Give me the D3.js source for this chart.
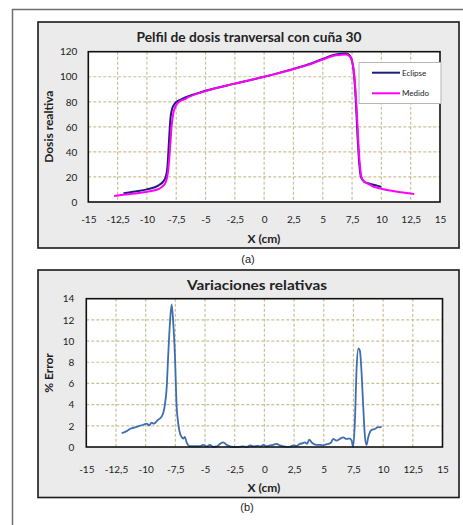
<!DOCTYPE html>
<html>
<head>
<meta charset="utf-8">
<script src="https://cdn.jsdelivr.net/npm/d3@7"></script>
<style>
  html, body { margin: 0; padding: 0; background: #fff; }
  svg { display: block; }
  text { font-family: Lato, "Open Sans", sans-serif; fill: #222; }
</style>
</head>
<body>
<svg id="fig" width="463" height="525"></svg>
<script>
// Transverse dose profile, wedge 30 — [x (cm), relative dose]
const eclipsePoints = [
  [-12.0, 6.9], [-11.0, 8.4], [-10.0, 10.1], [-9.0, 13.3], [-8.6, 16.5], [-8.4, 20],
  [-8.25, 28], [-8.12, 48], [-8.0, 66], [-7.85, 74.5], [-7.6, 78.8], [-7.3, 81],
  [-7.0, 82.3], [-6.5, 84.2], [-5.0, 88.8], [-2.5, 94.5], [0, 100], [2.5, 106.3],
  [3.5, 109], [4.0, 110.6], [5.0, 114.2], [6.0, 117.5], [6.5, 118.3], [7.0, 118.6],
  [7.26, 117.4], [7.54, 110.7], [7.68, 100], [7.83, 78.8], [7.97, 52], [8.11, 31],
  [8.25, 20.2], [8.52, 16.2], [9.0, 14.7], [9.5, 13.4], [10.0, 12.1]
];
const medidoPoints = [
  [-12.8, 4.8], [-12.0, 5.8], [-11.0, 6.8], [-10.0, 8.2], [-9.0, 10.4], [-8.6, 13],
  [-8.35, 17], [-8.2, 24], [-8.05, 40], [-7.9, 60], [-7.77, 70], [-7.6, 75.5],
  [-7.45, 78.2], [-7.2, 80.5], [-6.8, 82], [-6.5, 83.5], [-5.0, 88.5], [-2.5, 94.5],
  [0, 100], [2.5, 106], [3.5, 108.8], [4.0, 110.2], [5.0, 113.8], [6.0, 117],
  [6.5, 117.5], [7.0, 117.8], [7.3, 116.3], [7.56, 110], [7.72, 98], [7.88, 76],
  [8.02, 50], [8.16, 30], [8.3, 20], [8.55, 16.2], [8.8, 14.9], [9.3, 12.3],
  [10.0, 10.6], [11.0, 8.7], [12.0, 7.3], [12.64, 6.6], [12.8, 6.4]
];

// Relative variation between both profiles — [x (cm), % error]
const errorPoints = [
  [-12.02, 1.32], [-11.6, 1.5], [-11.3, 1.72], [-10.9, 1.85], [-10.5, 2.0], [-10.2, 2.1],
  [-9.92, 2.2], [-9.7, 2.05], [-9.5, 2.3], [-9.3, 2.2], [-9.1, 2.4], [-8.94, 2.58],
  [-8.7, 2.8], [-8.52, 3.2], [-8.38, 4.0], [-8.23, 5.6], [-8.1, 8.7], [-7.95, 11.8],
  [-7.81, 13.47], [-7.68, 11.8], [-7.53, 8.5], [-7.39, 3.8], [-7.26, 2.26], [-7.11, 1.3],
  [-6.97, 0.95], [-6.84, 0.8], [-6.7, 0.95], [-6.55, 0.44], [-6.27, 0.07], [-5.9, 0.07],
  [-5.43, 0.07], [-5.15, 0.2], [-4.87, 0.05], [-4.6, 0.2], [-4.3, 0.0], [-4.0, 0.05],
  [-3.74, 0.3], [-3.47, 0.44], [-3.19, 0.2], [-2.9, 0.05], [-2.63, 0.0], [-2.2, 0.0],
  [-1.8, 0.05], [-1.5, 0.0], [-1.2, 0.16], [-0.9, 0.05], [-0.6, 0.1], [-0.3, 0.05],
  [-0.1, 0.2], [0.18, 0.07], [0.45, 0.15], [0.74, 0.2], [1.03, 0.3], [1.3, 0.15],
  [1.59, 0.07], [2.0, 0.0], [2.2, 0.05], [2.42, 0.16], [2.7, 0.1], [2.99, 0.3],
  [3.2, 0.35], [3.41, 0.44], [3.6, 0.3], [3.77, 0.69], [4.0, 0.4], [4.4, 0.2],
  [4.7, 0.2], [4.96, 0.16], [5.2, 0.25], [5.4, 0.3], [5.6, 0.4], [5.79, 0.76],
  [6.07, 0.6], [6.35, 0.76], [6.63, 0.9], [6.91, 0.76], [7.2, 0.8], [7.35, 0.6],
  [7.47, 0.0], [7.62, 2.35], [7.76, 7.3], [7.92, 9.3], [8.04, 9.1], [8.18, 7.1],
  [8.32, 3.9], [8.46, 1.1], [8.6, 0.2], [8.74, 0.9], [9.02, 1.6], [9.3, 1.7],
  [9.58, 1.88], [9.72, 1.85], [9.86, 1.95]
];

const xTicks = [-15, -12.5, -10, -7.5, -5, -2.5, 0, 2.5, 5, 7.5, 10, 12.5, 15];
const doseTicks = [0, 20, 40, 60, 80, 100, 120];
const errorTicks = [0, 2, 4, 6, 8, 10, 12, 14];
const seriesNames = ["Eclipse", "Medido"];
const seriesColors = ["#1c1f7a", "#ff00ff"];

const fmt = v => String(v).replace(".", ",");
const svg = d3.select("#fig");

// outer page frame
svg.append("rect").attr("x", 12.5).attr("y", 9.5).attr("width", 480).attr("height", 540)
  .attr("fill", "#fff").attr("stroke", "#6e6e6e").attr("stroke-width", 1.5);

function panel(cfg) {
  const g = svg.append("g");
  g.append("rect").attr("x", cfg.box[0]).attr("y", cfg.box[1])
    .attr("width", cfg.box[2]).attr("height", cfg.box[3])
    .attr("fill", "#ebebeb").attr("stroke", "#1a1a1a").attr("stroke-width", 1.6);

  const x = d3.scaleLinear().domain([-15, 15]).range([cfg.plot[0], cfg.plot[1]]);
  const y = d3.scaleLinear().domain(cfg.yDomain).range([cfg.plot[3], cfg.plot[2]]);

  g.append("rect").attr("x", cfg.plot[0]).attr("y", cfg.plot[2])
    .attr("width", cfg.plot[1] - cfg.plot[0]).attr("height", cfg.plot[3] - cfg.plot[2])
    .attr("fill", "#fff");

  // dashed grid
  const grid = g.append("g").attr("stroke", "#cbbf97").attr("stroke-width", 1.2)
    .attr("stroke-dasharray", "3,2");
  grid.selectAll("line.v").data(xTicks.slice(1, -1)).join("line")
    .attr("x1", d => x(d)).attr("x2", d => x(d))
    .attr("y1", cfg.plot[2]).attr("y2", cfg.plot[3]);
  grid.selectAll("line.h").data(cfg.yTicks.slice(1, -1)).join("line")
    .attr("y1", d => y(d)).attr("y2", d => y(d))
    .attr("x1", cfg.plot[0]).attr("x2", cfg.plot[1]);

  // axes (labels only, no tick marks)
  const ax = g.append("g").attr("transform", `translate(0,${cfg.plot[3]})`)
    .call(d3.axisBottom(x).tickValues(xTicks).tickFormat(fmt).tickSize(0).tickPadding(cfg.xPad));
  const ay = g.append("g").attr("transform", `translate(${cfg.plot[0]},0)`)
    .call(d3.axisLeft(y).tickValues(cfg.yTicks).tickSize(0).tickPadding(cfg.yPad));
  [ax, ay].forEach(a => {
    a.select(".domain").remove();
    a.selectAll("text").attr("font-size", 10).attr("fill", "#1a1a1a")
      .style("font-family", "Lato, sans-serif");
  });

  g.append("text").attr("x", cfg.titlePos[0]).attr("y", cfg.titlePos[1])
    .attr("text-anchor", "middle").attr("font-weight", "bold").attr("font-size", 13)
    .attr("textLength", cfg.titleLen).attr("lengthAdjust", "spacingAndGlyphs")
    .text(cfg.title);
  g.append("text").attr("x", 264).attr("y", cfg.xLabelY)
    .attr("text-anchor", "middle").attr("font-weight", "bold").attr("font-size", 12)
    .text("X (cm)");
  g.append("text").attr("transform", `translate(53,${cfg.yLabelY}) rotate(-90)`)
    .attr("text-anchor", "middle").attr("font-weight", "bold").attr("font-size", 12)
    .text(cfg.yLabel);

  return { g, x, y };
}

// (a) dose profiles
const A = panel({
  box: [38, 22, 421, 226], plot: [88.3, 440, 51.7, 202],
  yDomain: [0, 120], yTicks: doseTicks, xPad: 14, yPad: 11,
  title: "Pelfil de dosis tranversal con cuña 30", titlePos: [249, 42], titleLen: 225,
  xLabelY: 242.5, yLabel: "Dosis realtiva", yLabelY: 126.7
});
const lineA = d3.line().x(d => A.x(d[0])).y(d => A.y(d[1])).curve(d3.curveMonotoneX);
[eclipsePoints, medidoPoints].forEach((pts, i) => {
  A.g.append("path").datum(pts).attr("d", lineA).attr("fill", "none")
    .attr("stroke", seriesColors[i]).attr("stroke-width", 2).attr("stroke-linejoin", "round");
});
A.g.append("rect").attr("x", 88.3).attr("y", 51.7).attr("width", 440 - 88.3).attr("height", 202 - 51.7)
  .attr("fill", "none").attr("stroke", "#111").attr("stroke-width", 1.6);

// legend
const leg = A.g.append("g");
leg.append("rect").attr("x", 359).attr("y", 62.5).attr("width", 82).attr("height", 41)
  .attr("fill", "#fff").attr("stroke", "#b5b5b5").attr("stroke-width", 1);
seriesNames.forEach((n, i) => {
  const yy = 72.7 + i * 20.6;
  leg.append("line").attr("x1", 372).attr("x2", 400).attr("y1", yy).attr("y2", yy)
    .attr("stroke", seriesColors[i]).attr("stroke-width", 2);
  leg.append("text").attr("x", 402).attr("y", yy + 3).attr("font-size", 8).attr("fill", "#333").text(n);
});

// (b) relative variations
const B = panel({
  box: [38, 270, 421, 227.5], plot: [86.3, 442.5, 298.7, 447],
  yDomain: [0, 14], yTicks: errorTicks, xPad: 19, yPad: 12,
  title: "Variaciones  relativas", titlePos: [257, 290.3], titleLen: 140,
  xLabelY: 492.3, yLabel: "% Error", yLabelY: 373
});
const lineB = d3.line().x(d => B.x(d[0])).y(d => B.y(d[1])).curve(d3.curveMonotoneX);
B.g.append("path").datum(errorPoints).attr("d", lineB).attr("fill", "none")
  .attr("stroke", "#3e6db3").attr("stroke-width", 1.8).attr("stroke-linejoin", "round");
B.g.append("rect").attr("x", 86.3).attr("y", 298.7).attr("width", 442.5 - 86.3).attr("height", 447 - 298.7)
  .attr("fill", "none").attr("stroke", "#111").attr("stroke-width", 1.6);

// captions
svg.append("text").attr("x", 248).attr("y", 262.5).attr("text-anchor", "middle")
  .attr("font-size", 11).style("font-family", "'Liberation Sans', Arial, sans-serif").text("(a)");
svg.append("text").attr("x", 247).attr("y", 510.5).attr("text-anchor", "middle")
  .attr("font-size", 11).style("font-family", "'Liberation Sans', Arial, sans-serif").text("(b)");
</script>
</body>
</html>
